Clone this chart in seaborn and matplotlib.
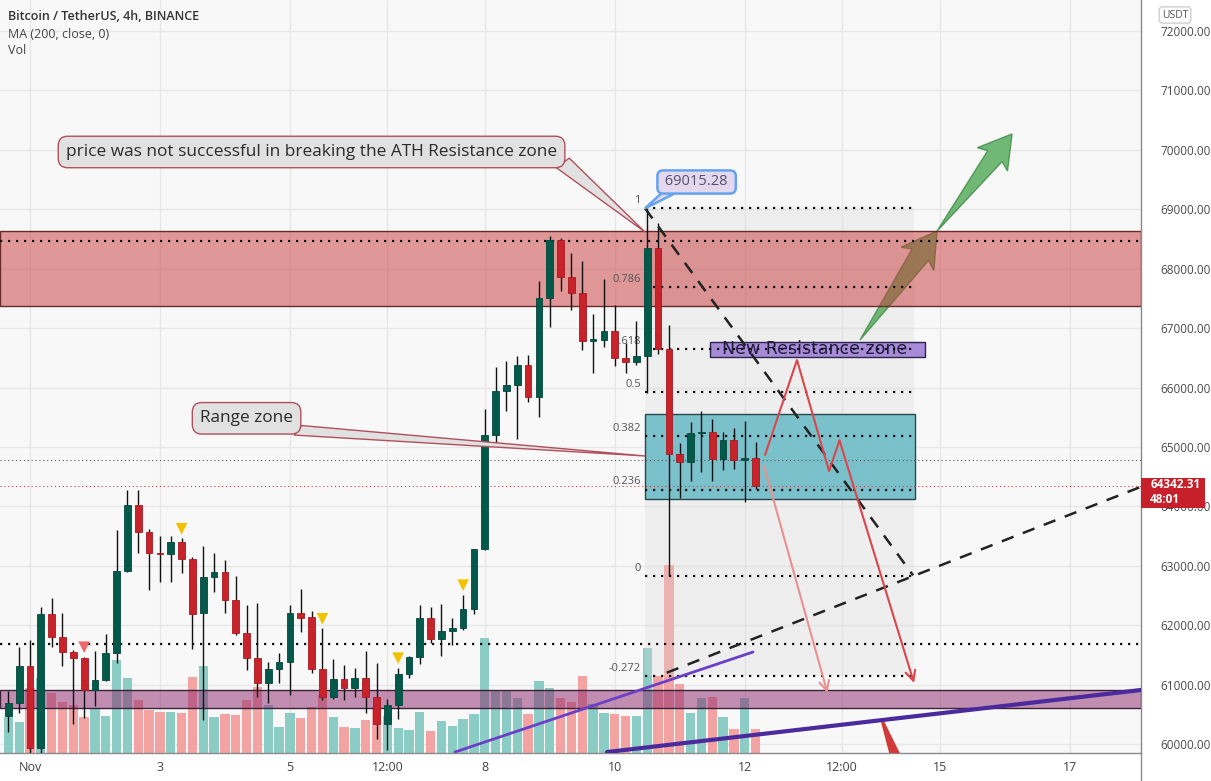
import numpy as np
import pandas as pd
import matplotlib
matplotlib.use("Agg")
import matplotlib.pyplot as plt
import seaborn as sns
from matplotlib.patches import Rectangle, Polygon
from matplotlib.lines import Line2D

# ---------------- data (4h bars, index 0 = 1 Nov 00:00) ----------------
candle_idx = list(range(-2, 68))
opens = [60472, 60686, 61314, 59929, 62189, 61807, 61554, 61443, 60910, 61078,
         61527, 62912, 64023, 63574, 63220, 63195, 63405, 63109, 62200, 62806,
         62890, 62424, 61864, 61443, 61033, 61258, 61386, 62200, 62133, 61258,
         60787, 61090, 60938, 61107, 60797, 60338, 60649, 61181, 61472, 62126,
         61761, 61911, 61953, 62271, 63284, 65198, 65940, 66037, 66374, 65835,
         67515, 68490, 67863, 67586, 66785, 66800, 66951, 66492, 66430, 66536,
         68341, 66642, 64885, 64748, 65228, 65258, 64792, 65122, 64780, 64811]
highs = [60898, 61638, 61751, 62312, 62453, 62211, 61583, 61470, 61566, 61847,
         63602, 64276, 64276, 63614, 63501, 63501, 63463, 63143, 63333, 63210,
         63098, 62828, 62340, 62379, 61386, 61527, 62340, 62604, 62239, 61948,
         61426, 61330, 61275, 61571, 61369, 60765, 61285, 61489, 62340, 62300,
         62357, 62126, 62514, 63290, 65644, 66339, 66443, 66531, 66547, 67788,
         68542, 68520, 68269, 68123, 67237, 67826, 67389, 66753, 67115, 69015.28,
         68777, 67052, 65060, 65415, 65602, 65477, 65247, 65321, 65445, 65085]
lows = [60208, 60528, 59700, 59800, 61638, 61314, 60333, 60433, 60645, 61066,
        61369, 62900, 63210, 62593, 62732, 62732, 62884, 61595, 60405, 62564,
        62200, 61835, 61246, 60797, 60696, 61022, 60826, 61891, 61201, 60741,
        60753, 60741, 60797, 60528, 60080, 59895, 60417, 61112, 61344, 61702,
        61489, 61662, 61923, 62184, 63270, 65053, 65603, 65139, 65760, 65504,
        67024, 67631, 67313, 66628, 66243, 66678, 66367, 66243, 66379, 65913,
        66566, 62822, 64138, 64419, 64573, 64419, 64605, 64636, 64075, 64294]
closes = [60686, 61314, 59929, 62189, 61807, 61554, 61443, 60910, 61078, 61527,
          62912, 64023, 63574, 63220, 63195, 63405, 63109, 62189, 62806, 62890,
          62424, 61864, 61443, 61033, 61258, 61386, 62200, 62126, 61258, 60787,
          61090, 60938, 61107, 60797, 60338, 60649, 61181, 61472, 62126, 61761,
          61911, 61953, 62271, 63284, 65198, 65940, 66037, 66374, 65835, 67515,
          68490, 67863, 67586, 66785, 66800, 66951, 66492, 66430, 66536, 68341,
          66642, 64885, 64748, 65228, 65258, 64792, 65122, 64780, 64811, 64342.31]
volumes = [3630, 3130, 6470, 7470, 5970, 5130, 4800, 3570, 4370, 3700,
           9300, 7470, 5300, 4300, 4130, 4130, 4030, 7630, 8730, 3630,
           3900, 3800, 5300, 6570, 4800, 2630, 4030, 3530, 4630, 5800,
           3630, 2630, 2530, 3300, 4630, 3700, 2500, 2330, 4130, 2160,
           3200, 2680, 3370, 3890, 11530, 6200, 6300, 5500, 3890, 7160,
           6540, 5500, 5100, 7750, 4950, 4030, 3950, 3660, 3660, 10500,
           7730, 18820, 6910, 4030, 5500, 5580, 3580, 2360, 5500, 2360]

time_tick_idx = [0, 12, 24, 33, 42, 54, 66, 75, 84, 96]
time_tick_labels = ["Nov", "3", "5", "12:00", "8", "10", "12", "12:00", "15", "17"]
price_ticks = list(range(60000, 72001, 1000))

signal_yellow_idx = [14, 27, 34, 40]
signal_red_idx = [5]

ath_price = 69015.28
swing_low = 62822
fib_levels = [1, 0.786, 0.618, 0.5, 0.382, 0.236, 0, -0.272]
fib_labels = ["1", "0.786", "0.618", "0.5", "0.382", "0.236", "0", "-0.272"]
last_price = 64342.31

resistance_zone = (67372, 68634)
support_zone = (60601, 60909)
range_zone = (64118, 65549)
new_res_zone = (66514, 66766)
hlines_dotted = [68466, 61676]
hline_fine = 64780

# ---------------- analyst drawings (bar index, price) ----------------
fib_x0, fib_x1 = 56.8, 81.6
range_x0, range_x1 = 56.8, 81.75
newres_x0, newres_x1 = 62.8, 82.65
ath_drop_line = ([56.8, 81.55], [69015, 62840])
rising_dash = ([58.8, 102.6], [61200, 64330])
purple_line_1 = ([39.25, 66.77], [59866, 61549])
purple_line_2 = ([53.29, 102.6], [59866, 60910])
zigzag_x = [67.88, 70.83, 73.79, 74.76, 81.64]
zigzag_y = [64865, 66463, 64595, 65109, 61028]
drop_x = [67.79, 73.65]
drop_y = [64679, 60859]
green_arrows = [((76.65, 66800), (83.77, 68634)), ((83.77, 68634), (90.69, 70267))]
red_wedge = [(78.59, 60371), (78.91, 60371), (81.0, 59600), (79.7, 59600)]

# ---------------- figure ----------------
sns.set_style("white")
plt.rcParams["font.family"] = ["Open Sans", "DejaVu Sans"]

W, H = 1211, 781
fig = plt.figure(figsize=(W / 100, H / 100), dpi=100, facecolor="white")
rect = [0, 28 / H, 1141 / W, 753 / H]
XMIN, XMAX = -2.7706, 102.60
YMIN, YMAX = 59849.5, 72521.7

# background + grid
axbg = fig.add_axes(rect)
axbg.set_facecolor("#f8f8f8")
axbg.set_xlim(XMIN, XMAX)
axbg.set_ylim(YMIN, YMAX)
axbg.set_xticks(time_tick_idx)
axbg.set_yticks(price_ticks)
axbg.grid(True, color="#e8e8e8", lw=1)
axbg.tick_params(left=False, bottom=False, labelleft=False, labelbottom=False)
for s in axbg.spines.values():
    s.set_visible(False)

df = pd.DataFrame(dict(i=candle_idx, o=opens, h=highs, l=lows, c=closes, v=volumes))
df["dir"] = np.where(df.c >= df.o, "up", "down")

# volume
axv = fig.add_axes(rect)
axv.patch.set_alpha(0)
sns.barplot(data=df, x="i", y="v", hue="dir", native_scale=True, width=0.86,
            palette={"up": "#8bccc5", "down": "#f4a3a3"}, saturation=1,
            errorbar=None, dodge=False, legend=False, ax=axv, linewidth=0)
axv.set_xlim(XMIN, XMAX)
axv.set_ylim(0, 75300)
axv.set_axis_off()

# main price axes
ax = fig.add_axes(rect)
ax.patch.set_alpha(0)

# fib shading
fib_prices = [swing_low + l * (ath_price - swing_low) for l in fib_levels]
ax.add_patch(Rectangle((fib_x0, fib_prices[-1]), fib_x1 - fib_x0, fib_prices[0] - fib_prices[-1],
                       fc="#d8d8d8", alpha=0.3, lw=0, zorder=1))


def fat_arrow(tail, tip, head_back, head_half, notch_back, shaft_half, **kw):
    T = ax.transData
    p0 = np.array(T.transform(tail))
    p1 = np.array(T.transform(tip))
    u = (p1 - p0) / np.linalg.norm(p1 - p0)
    n = np.array([-u[1], u[0]])
    pts = [p0,
           p1 - u * notch_back + n * shaft_half,
           p1 - u * head_back + n * head_half,
           p1,
           p1 - u * head_back - n * head_half,
           p1 - u * notch_back - n * shaft_half]
    ax.add_patch(Polygon(T.inverted().transform(np.array(pts)), closed=True, **kw))


ax.set_xlim(XMIN, XMAX)
ax.set_ylim(YMIN, YMAX)

fat_arrow(*green_arrows[0], 34, 20, 29, 10, fc="#4fa956", ec="#3b8a42", lw=1, alpha=0.8, zorder=1.5)
fat_arrow(*green_arrows[1], 32, 19, 28, 9, fc="#4fa956", ec="#3b8a42", lw=1, alpha=0.8, zorder=1.5)

# zones
ax.axhspan(*resistance_zone, fc=(0.78, 0.22, 0.22, 0.5), ec="#6a2a2a", lw=1, zorder=2)
ax.axhspan(*support_zone, fc=(0.55, 0.15, 0.42, 0.5), ec="#3a2238", lw=1, zorder=2)
ax.add_patch(Rectangle((range_x0, range_zone[0]), range_x1 - range_x0, range_zone[1] - range_zone[0],
                       fc=(0.40, 0.73, 0.78, 0.85), ec="#27474c", lw=1, zorder=2.5))
ax.add_patch(Rectangle((newres_x0, new_res_zone[0]), newres_x1 - newres_x0, new_res_zone[1] - new_res_zone[0],
                       fc="#a88bd6", ec="#2b2350", lw=1, zorder=2.6))
ax.text((newres_x0 + newres_x1) / 2 - 0.25, sum(new_res_zone) / 2, "New Resistance zone",
        ha="center", va="center", fontsize=12.5, color="#1e1b3d", family="DejaVu Sans", zorder=2.7)

# horizontal lines
for hp in hlines_dotted:
    ax.axhline(hp, color="#111", lw=1.6, ls=(0, (1, 2.6)), zorder=3)
ax.axhline(hline_fine, color="#555", lw=0.8, ls=(0, (1, 2.5)), zorder=3)
ax.axhline(last_price, color="#d04040", lw=0.8, ls=(0, (1, 2.5)), zorder=3)

# fib levels
for lv, lab, fp in zip(fib_levels, fib_labels, fib_prices):
    ax.plot([fib_x0, fib_x1], [fp, fp], color="#111", lw=1.6, ls=(0, (1, 2.6)), zorder=3.2)
    ax.annotate(lab, (fib_x0, fp), xytext=(-3, 1.5), textcoords="offset points",
                ha="right", va="bottom", fontsize=8, color="#555", zorder=2.8)

# candles
up = df.c >= df.o
ax.vlines(df.i, df.l, df.h, color="#111", lw=1, zorder=4)
body_bottom = np.minimum(df.o, df.c)
body_h = np.maximum(np.abs(df.c - df.o), 28)
ax.bar(df.i, body_h, bottom=body_bottom, width=0.62,
       color=np.where(up, "#035a4a", "#c8222a"),
       edgecolor=np.where(up, "#02463a", "#a51a20"), lw=0.6, zorder=4.5)

# signal markers
sns.scatterplot(x=signal_yellow_idx, y=[highs[candle_idx.index(k)] + 160 for k in signal_yellow_idx],
                marker="v", s=70, color="#f2c200", edgecolor="none", ax=ax, zorder=5, legend=False)
sns.scatterplot(x=signal_red_idx, y=[highs[candle_idx.index(k)] + 160 for k in signal_red_idx],
                marker="v", s=70, color="#ee6a6a", edgecolor="none", ax=ax, zorder=5, legend=False)

# trend lines
ax.plot(*purple_line_1, color="#6b3fc8", lw=2, zorder=6)
ax.plot(*purple_line_2, color="#4a2a9c", lw=3, zorder=6)
ax.plot(*ath_drop_line, color="#222", lw=1.8, ls=(0, (5, 4)), zorder=6)
ax.plot(*rising_dash, color="#222", lw=1.8, ls=(0, (5, 4)), zorder=6)

# projection arrows
ax.plot(zigzag_x[:-1], zigzag_y[:-1], color="#d9474c", lw=1.5, zorder=6)
ax.annotate("", xy=(zigzag_x[-1], zigzag_y[-1]), xytext=(zigzag_x[-2], zigzag_y[-2]),
            arrowprops=dict(arrowstyle="->", color="#d9474c", lw=1.5, mutation_scale=18,
                            shrinkA=0, shrinkB=0), zorder=6)
ax.annotate("", xy=(drop_x[1], drop_y[1]), xytext=(drop_x[0], drop_y[0]),
            arrowprops=dict(arrowstyle="->", color="#eb8f8f", lw=1.5, mutation_scale=18,
                            shrinkA=0, shrinkB=0), zorder=6)
ax.add_patch(Polygon(red_wedge, closed=True, fc="#d23a3a", ec="none", zorder=6))

# callouts
cbox = dict(boxstyle="round,pad=0.45,rounding_size=0.55", fc="#e1e1e1", ec="#b0505e", lw=1)
ax.add_patch(Polygon([(48.6, 69700), (49.8, 69860), (56.8, 68617)], closed=True,
                     fc="#e1e1e1", ec="#b0505e", lw=1, zorder=8))
ax.text(26.0, 69964, "price was not successful in breaking the ATH Resistance zone",
        ha="center", va="center", fontsize=12.4, color="#2b2b2b", bbox=cbox, zorder=9)
ax.add_patch(Polygon([(24.4, 65200), (25.1, 65360), (56.8, 64848)], closed=True,
                     fc="#e1e1e1", ec="#b0505e", lw=1, zorder=8))
ax.text(20.0, 65482, "Range zone", ha="center", va="center", fontsize=12.4,
        color="#2b2b2b", bbox=cbox, zorder=9)
ax.add_patch(Polygon([(58.5, 69300), (59.9, 69300), (56.8, ath_price)], closed=True,
                     fc="#e3d8ee", ec="#66a3ef", lw=1.8, zorder=8))
ax.text(61.56, 69459, " %.2f " % ath_price, ha="center", va="center", fontsize=10.5,
        color="#5b4e6e", zorder=9,
        bbox=dict(boxstyle="round,pad=0.28,rounding_size=0.4", fc="#e3d8ee", ec="#66a3ef", lw=1.8))

# axes styling
ax.set_xlim(XMIN, XMAX)
ax.set_ylim(YMIN, YMAX)
ax.set_xlabel("")
ax.set_ylabel("")
ax.set_xticks(time_tick_idx, time_tick_labels)
ax.set_yticks(price_ticks, [f"{p:.2f}" for p in price_ticks])
ax.yaxis.tick_right()
ax.tick_params(axis="y", length=0, pad=14, labelsize=8.5, labelcolor="#4a4a4a")
ax.tick_params(axis="x", length=0, pad=6, labelsize=9, labelcolor="#444")
for side in ["left", "top"]:
    ax.spines[side].set_visible(False)
for side in ["right", "bottom"]:
    ax.spines[side].set_color("#8a8a8a")
    ax.spines[side].set_linewidth(1)
fig.add_artist(Line2D([1141 / W, 1141 / W], [0, 28 / H], color="#8a8a8a", lw=1))

# last price label on the scale
ax.add_patch(Rectangle((XMAX, 63973), 5.9, 505, fc="#c8202a", ec="none",
                       clip_on=False, zorder=10))
ax.text(XMAX + 0.85, last_price + 20, f"{last_price:.2f}", ha="left", va="center",
        fontsize=8.5, color="white", fontweight="bold", clip_on=False, zorder=11)
ax.text(XMAX + 0.85, 64110, "48:01", ha="left", va="center",
        fontsize=8.5, color="white", fontweight="bold", clip_on=False, zorder=11)

# header / legend texts
fig.text(8 / W, 1 - 16 / H, "Bitcoin / TetherUS, 4h, BINANCE", ha="left", va="center",
         fontsize=9, color="#333", fontweight="semibold")
fig.text(8 / W, 1 - 34 / H, "MA (200, close, 0)", ha="left", va="center", fontsize=9, color="#444")
fig.text(8 / W, 1 - 50 / H, "Vol", ha="left", va="center", fontsize=9, color="#444")
fig.text(1175 / W, 1 - 15 / H, "USDT", ha="center", va="center", fontsize=7.5, color="#555",
         bbox=dict(boxstyle="round,pad=0.25,rounding_size=0.3", fc="white", ec="#cfcfcf", lw=1))

fig.savefig("out.png", dpi=100, facecolor="white")
